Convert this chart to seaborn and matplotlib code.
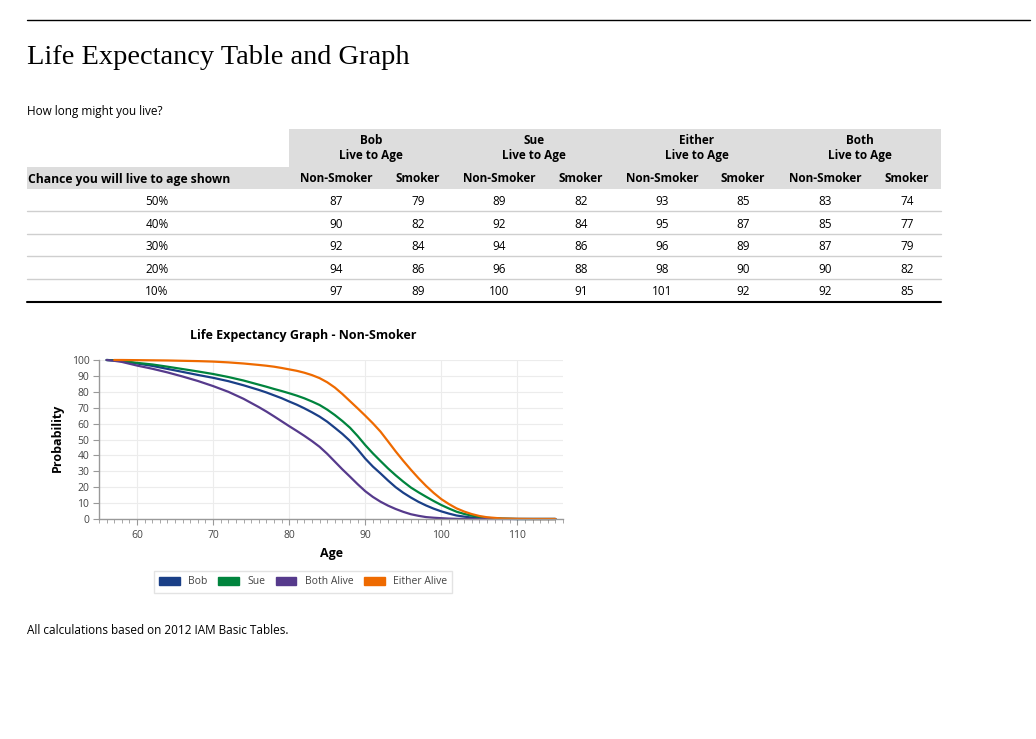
import numpy as np
import pandas as pd
import matplotlib
matplotlib.use("Agg")
import matplotlib.pyplot as plt
import seaborn as sns
from matplotlib.patches import Rectangle, Patch

# ---------------- Table data ----------------
chance_labels = ["50%", "40%", "30%", "20%", "10%"]
people = ["Bob", "Sue", "Either", "Both"]
bob_non_smoker = [87, 90, 92, 94, 97]
bob_smoker = [79, 82, 84, 86, 89]
sue_non_smoker = [89, 92, 94, 96, 100]
sue_smoker = [82, 84, 86, 88, 91]
either_non_smoker = [93, 95, 96, 98, 101]
either_smoker = [85, 87, 89, 90, 92]
both_non_smoker = [83, 85, 87, 90, 92]
both_smoker = [74, 77, 79, 82, 85]

# ---------------- Graph data ----------------
ages = [56, 57, 58, 60, 62, 64, 66, 68, 70, 72, 74, 76,
        77, 78, 79, 80, 81, 82, 83, 84, 85, 86, 87, 88, 89, 90, 91,
        92, 93, 94, 95, 96, 97, 98, 99, 100, 101, 102, 103, 104, 105,
        106, 108, 110, 112, 114, 115]
bob = [100, 99.8, 99.3, 97.8, 96.3, 94.4, 92.5, 90.6, 88.8, 86.7, 84.1, 81.2,
       79.6, 77.8, 76.0, 73.9, 71.9, 69.6, 67.1, 64.4, 61.2, 57.4, 53.5, 49.1,
       43.8, 38.0, 33.0, 28.7, 24.2, 20.0, 16.5, 13.5, 10.8, 8.5, 6.5, 4.8,
       3.4, 2.2, 1.5, 0.9, 0.5,
       0.3, 0.1, 0, 0, 0, 0]
sue = [100, 99.8, 99.4, 98.2, 97.2, 95.8, 94.3, 92.8, 91.2, 89.3, 87.1, 84.5,
       83.2, 81.8, 80.5, 79.1, 77.6, 75.9, 73.9, 71.7, 68.8, 65.4, 61.6, 57.4,
       52.2, 46.5, 41.3, 36.5, 31.8, 27.5, 23.5, 19.8, 16.8, 14.0, 11.3, 8.8,
       6.6, 4.6, 3.2, 2.1, 1.3,
       0.7, 0.2, 0, 0, 0, 0]
both_alive = [100, 99.5, 98.8, 96.5, 94.5, 92.2, 89.6, 86.8, 83.6, 80.0, 75.6, 70.4,
              67.6, 64.6, 61.5, 58.4, 55.4, 52.3, 49.0, 45.4, 41.0, 36.1, 31.2, 26.6,
              21.9, 17.5, 13.9, 10.9, 8.4, 6.3, 4.5, 3.0, 2.0, 1.2, 0.8, 0.5,
              0.25, 0.1, 0.05, 0, 0,
              0, 0, 0, 0, 0, 0]
either_alive = [np.nan, 100, 100, 99.9, 99.8, 99.7, 99.5, 99.3, 99.0, 98.5, 97.8, 96.9,
                96.4, 95.8, 95.0, 94.1, 93.2, 92.0, 90.5, 88.6, 86.0, 82.7, 78.6, 74.1,
                69.6, 65.0, 60.2, 55.0, 48.8, 42.5, 36.6, 31.0, 25.7, 20.8, 16.4, 12.5,
                9.4, 6.7, 4.7, 3.1, 1.9,
                1.1, 0.3, 0.1, 0, 0, 0]

series_names = ["Bob", "Sue", "Both Alive", "Either Alive"]
colors = {"Bob": "#1a3f87", "Sue": "#00843d",
          "Both Alive": "#563a8c", "Either Alive": "#ee6a00"}

df = pd.concat([
    pd.DataFrame({"Age": ages, "Probability": vals, "Series": name})
    for name, vals in zip(series_names, [bob, sue, both_alive, either_alive])
], ignore_index=True).dropna()

# ---------------- Page ----------------
sns.set_style("white")
plt.rcParams["font.family"] = ["Open Sans", "DejaVu Sans"]
plt.rcParams["text.color"] = "black"

W, H = 1036, 739
fig = plt.figure(figsize=(W / 100, H / 100), dpi=100)
page = fig.add_axes([0, 0, 1, 1])
page.set_xlim(0, W)
page.set_ylim(H, 0)
page.axis("off")

page.plot([27, 1030], [20, 20], color="black", lw=1)
page.text(27, 57, "Life Expectancy Table and Graph", family="Liberation Serif",
          fontsize=20.4, va="center", ha="left")
page.text(27, 111, "How long might you live?", fontsize=8.5, va="center")

# header bands
band = "#dddddd"
page.add_patch(Rectangle((289, 129), 941 - 289, 38, color=band, lw=0))
page.add_patch(Rectangle((27, 167), 941 - 27, 22, color=band, lw=0))

group_x = [371, 534, 697, 860]
col_x = [336, 418, 499, 581, 662, 743, 825, 907]
for name, gx in zip(people, group_x):
    page.text(gx, 141, name, ha="center", va="center", fontsize=8.5, weight="bold")
    page.text(gx, 156, "Live to Age", ha="center", va="center", fontsize=8.5, weight="bold")
page.text(28, 179, "Chance you will live to age shown", ha="left", va="center",
          fontsize=8.7, weight="bold")
for i, cx in enumerate(col_x):
    label = "Non-Smoker" if i % 2 == 0 else "Smoker"
    page.text(cx, 179, label, ha="center", va="center", fontsize=8.5, weight="bold")

columns = [bob_non_smoker, bob_smoker, sue_non_smoker, sue_smoker,
           either_non_smoker, either_smoker, both_non_smoker, both_smoker]
row_y = [201.5, 224.3, 246.7, 269.5, 291.7]
for r, ry in enumerate(row_y):
    page.text(157, ry, chance_labels[r], ha="center", va="center", fontsize=8.5)
    for cx, col in zip(col_x, columns):
        page.text(cx, ry, str(col[r]), ha="center", va="center", fontsize=8.5)
for ly in [211, 233.5, 256, 279]:
    page.plot([27, 941], [ly, ly], color="#cfcfcf", lw=1)
page.plot([27, 941], [301.5, 301.5], color="black", lw=1.5)

page.text(27, 631, "All calculations based on 2012 IAM Basic Tables.", fontsize=8.5,
          va="center")

# ---------------- Graph ----------------
ax = fig.add_axes([99 / W, 1 - 519 / H, (563 - 99) / W, (519 - 360) / H])
sns.lineplot(data=df, x="Age", y="Probability", hue="Series", palette=colors,
             hue_order=series_names, linewidth=1.6, legend=False, ax=ax)
ax.set_xlim(55, 116)
ax.set_ylim(0, 100)
ax.set_xticks([60, 70, 80, 90, 100, 110])
ax.set_xticks(np.arange(55, 117), minor=True)
ax.set_yticks(np.arange(0, 101, 10))
ax.grid(True, color="#ececec", lw=0.8)
ax.set_axisbelow(True)
for s in ["top", "right"]:
    ax.spines[s].set_visible(False)
for s in ["left", "bottom"]:
    ax.spines[s].set_color("#999999")
    ax.spines[s].set_linewidth(1)
ax.tick_params(axis="both", which="major", labelsize=7.5, labelcolor="#444444",
               color="#999999", direction="out", length=4, width=0.8, left=True, bottom=True)
ax.tick_params(axis="x", which="minor", color="#999999", direction="out",
               length=3, width=0.6, bottom=True)
ax.tick_params(axis="x", pad=4)
ax.tick_params(axis="y", pad=3)
for line in ax.lines:
    line.set_clip_on(False)
ax.set_xlabel("")
ax.set_ylabel("")

page.text(303, 336, "Life Expectancy Graph - Non-Smoker", ha="center", va="center",
          fontsize=9, weight="bold")
page.text(57, 438, "Probability", ha="center", va="center", rotation=90,
          fontsize=9, weight="bold")
page.text(331, 553, "Age", ha="center", va="center", fontsize=9, weight="bold")

handles = [Patch(facecolor=colors[n], edgecolor=colors[n], label=n) for n in series_names]
leg = fig.legend(handles=handles, loc="center", bbox_to_anchor=(303 / W, 1 - 582 / H),
                 ncol=4, fontsize=7.5, frameon=True, fancybox=False,
                 edgecolor="#dddddd", handlelength=2.0, handleheight=0.9,
                 columnspacing=1.0, handletextpad=0.8, borderpad=0.5)
leg.get_frame().set_linewidth(1)
for t in leg.get_texts():
    t.set_color("#444444")

fig.savefig("out.png", dpi=100)
